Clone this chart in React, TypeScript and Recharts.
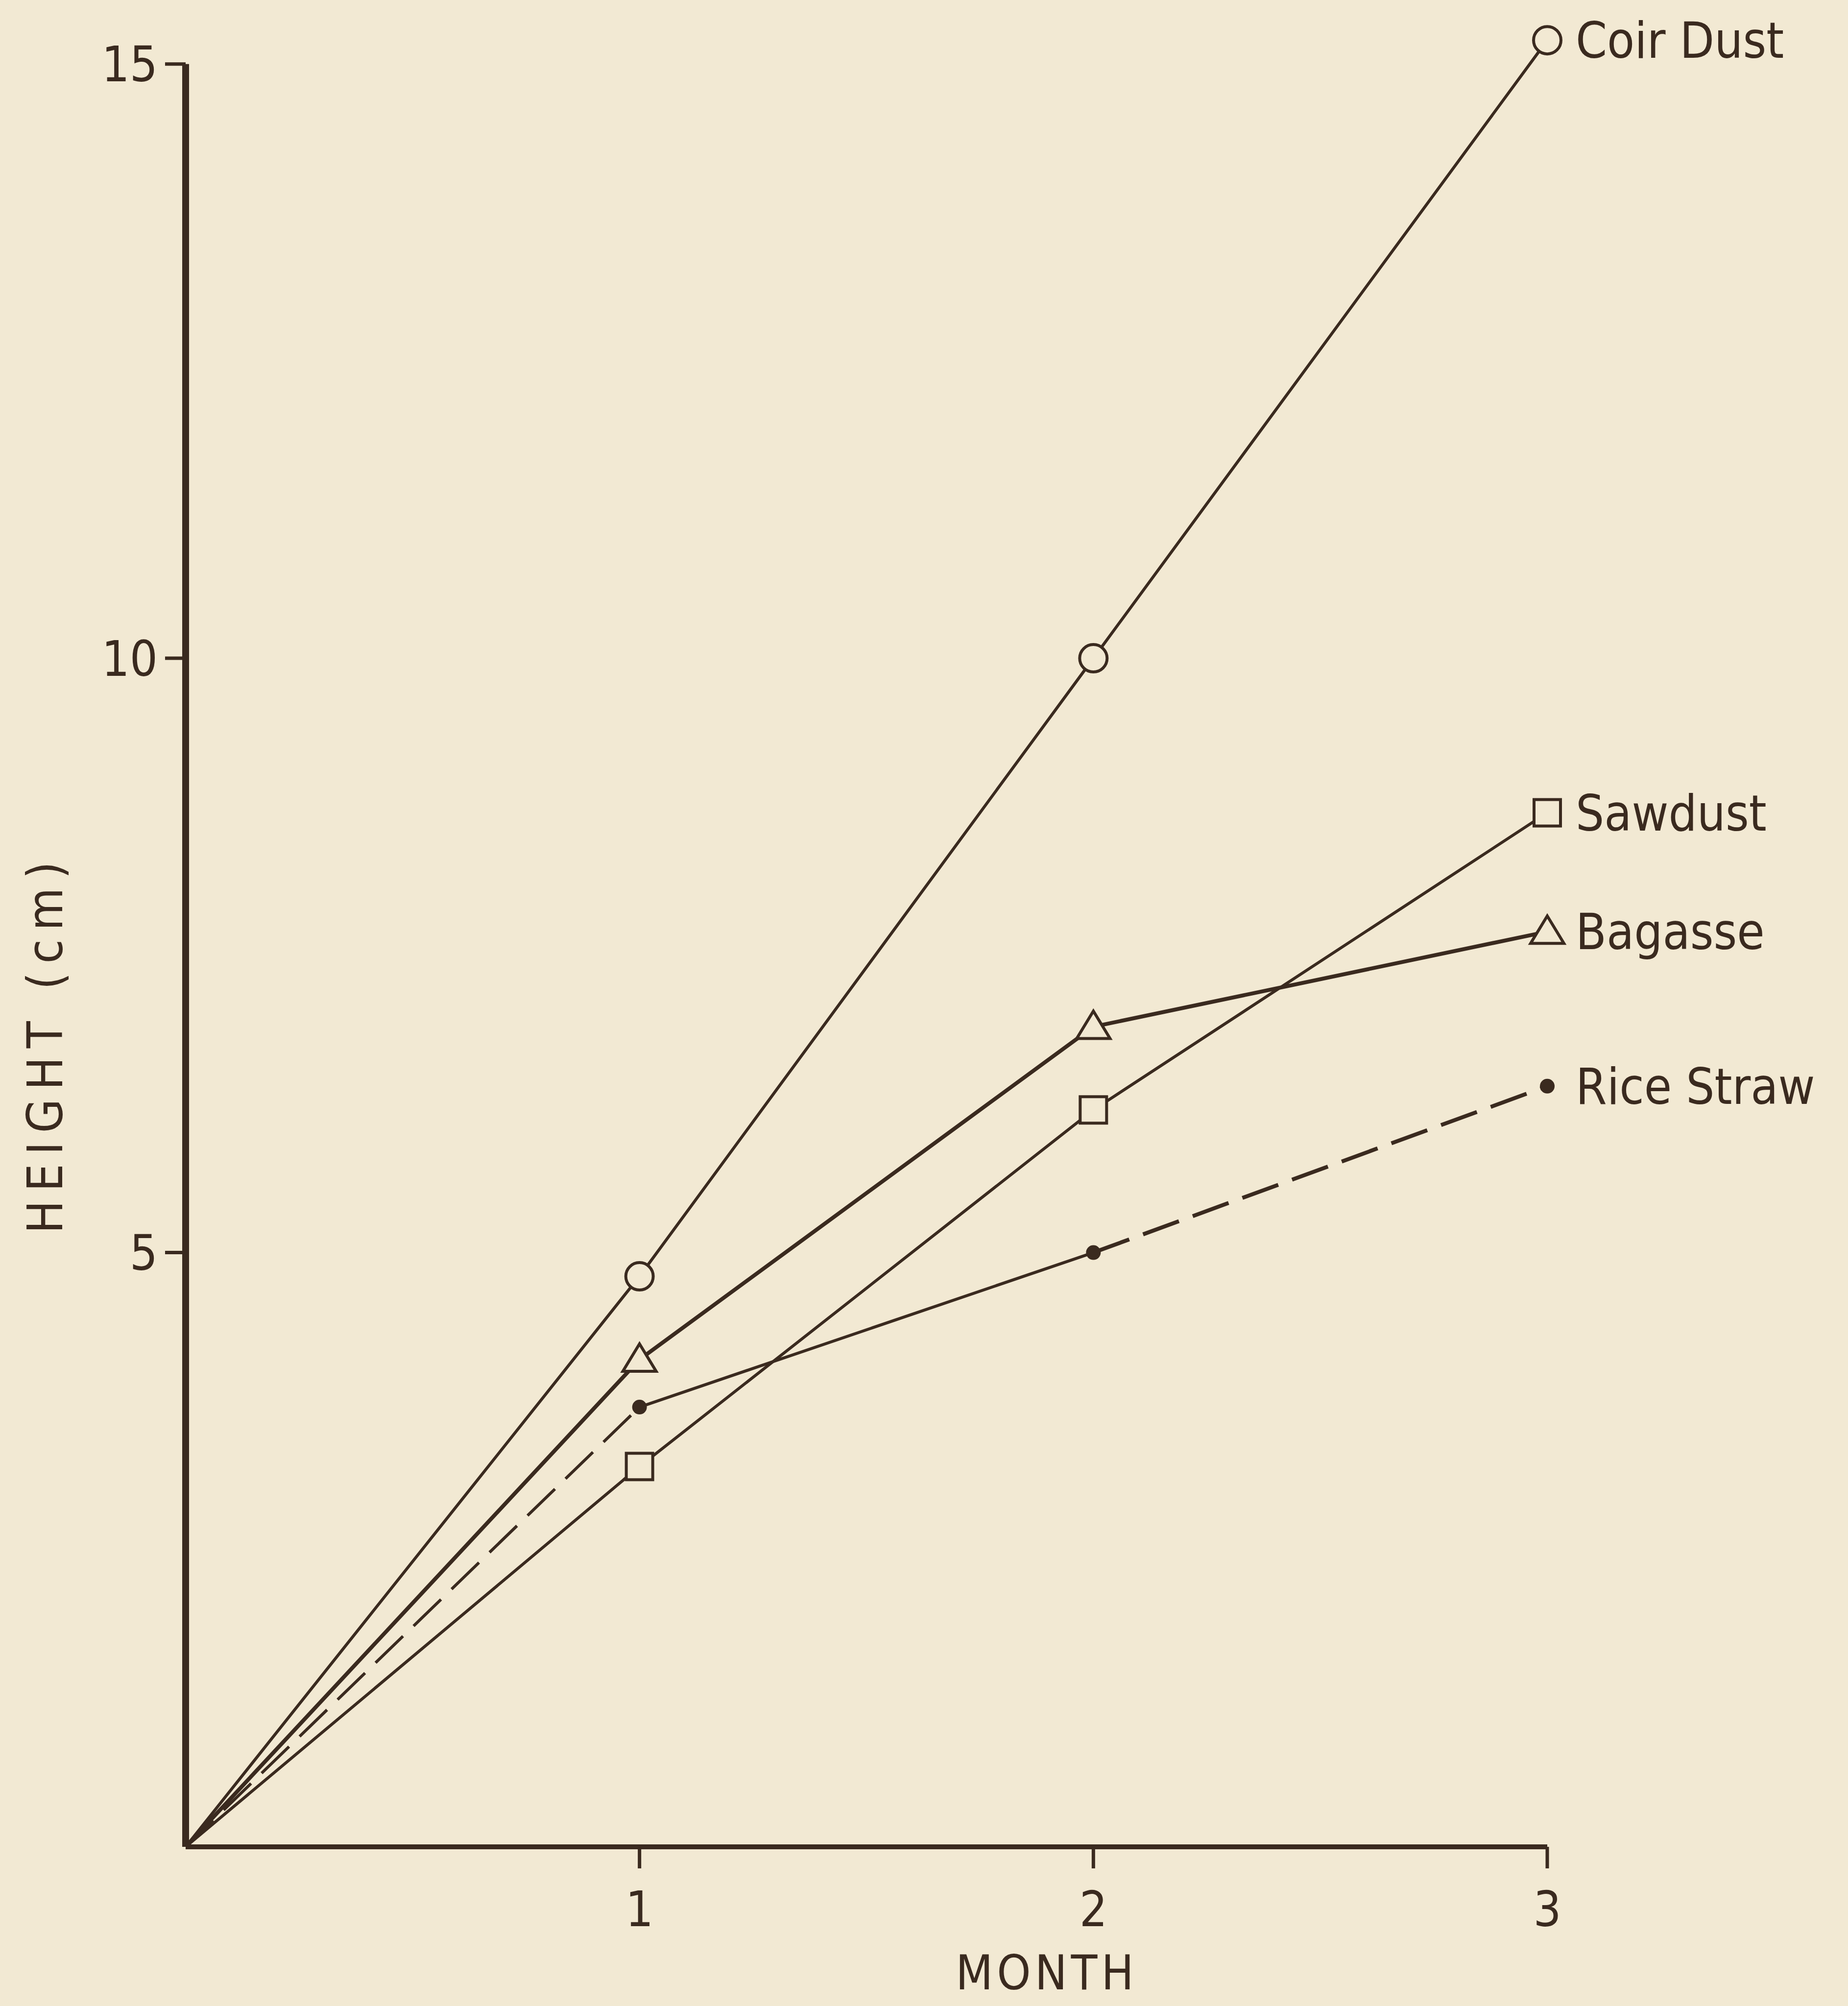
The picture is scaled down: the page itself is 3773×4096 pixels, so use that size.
import React from 'react';
import { LineChart, Line, XAxis, YAxis, ReferenceLine } from 'recharts';

// months after sowing
const months = [0, 1, 2, 3];
// seedling height (cm) per medium
const coirDust = [0, 4.8, 10.0, 15.2];
const sawdust = [0, 3.2, 6.2, 8.7];
const bagasse = [0, 4.1, 6.9, 7.7];
const riceStraw = [0, 3.7, 5.0, 6.4];
const yTicks = [5, 10, 15];
const xTicks = [1, 2, 3];

const INK = '#3a2a1f';
const PAPER = '#f2e9d3';
const FONT = '"DejaVu Sans Condensed", "Liberation Sans Narrow", "Liberation Sans", sans-serif';

const data = months.map((m, i) => ({
  month: m,
  coir: coirDust[i],
  saw: sawdust[i],
  bag: bagasse[i],
  // rice straw is drawn dashed / solid / dashed, so split it into pieces
  riceA: i <= 1 ? riceStraw[i] : null,
  riceB: i >= 1 && i <= 2 ? riceStraw[i] : null,
  riceC: i >= 2 ? riceStraw[i] : null,
}));

const marker = (kind: string, cx: number, cy: number) => {
  if (kind === 'circle') return <circle cx={cx} cy={cy} r={28} fill={PAPER} stroke={INK} strokeWidth={6} />;
  if (kind === 'square') return <rect x={cx - 27} y={cy - 27} width={54} height={54} fill={PAPER} stroke={INK} strokeWidth={6} />;
  if (kind === 'triangle')
    return <polygon points={`${cx},${cy - 32} ${cx + 34},${cy + 24} ${cx - 34},${cy + 24}`} fill={PAPER} stroke={INK} strokeWidth={6} />;
  return <circle cx={cx} cy={cy} r={15} fill={INK} />;
};

const makeDot = (kind: string, label: string | null, from: number) => (props: any) => {
  const { cx, cy, index } = props;
  if (cx == null || cy == null || index < from) return <g key={`d-${kind}-${index}`} />;
  return (
    <g key={`d-${kind}-${index}`}>
      {marker(kind, cx, cy)}
      {label && index === 3 && (
        <text x={cx + 58} y={cy + 36} fontSize={102} fill={INK} fontFamily={FONT}>
          {label}
        </text>
      )}
    </g>
  );
};

const yTitle = () => (
  <text
    x={92}
    y={2130}
    transform="rotate(-90, 92, 2130)"
    textAnchor="middle"
    dominantBaseline="central"
    fontSize={100}
    letterSpacing={18}
    fill={INK}
    fontFamily={FONT}
  >
    HEIGHT (cm)
  </text>
);

const xTitle = () => (
  <text x={2137} y={4028} textAnchor="middle" dominantBaseline="central" fontSize={98} letterSpacing={8} fill={INK} fontFamily={FONT}>
    MONTH
  </text>
);

export default function App() {
  const tickStyle = { fontSize: 100, fill: INK, fontFamily: FONT };
  return (
    <div style={{ position: 'absolute', left: 0, top: 0, width: 3773, height: 4096, background: PAPER }}>
      <LineChart width={3773} height={4096} data={data} margin={{ top: 70, right: 614, bottom: 0, left: 0 }}>
        <XAxis
          dataKey="month"
          type="number"
          domain={[0, 3]}
          ticks={xTicks}
          height={325}
          tick={tickStyle}
          tickSize={44}
          tickMargin={47}
          tickLine={{ stroke: INK, strokeWidth: 7 }}
          axisLine={{ stroke: INK, strokeWidth: 10 }}
          label={xTitle}
        />
        <YAxis
          type="number"
          domain={[0, 15.25]}
          ticks={yTicks}
          width={379}
          tick={tickStyle}
          tickSize={42}
          tickMargin={15}
          tickLine={{ stroke: INK, strokeWidth: 7 }}
          axisLine={false}
          label={yTitle}
        />
        <ReferenceLine segment={[{ x: 0, y: 0 }, { x: 0, y: 15 }]} stroke={INK} strokeWidth={14} />
        <Line dataKey="coir" stroke={INK} strokeWidth={6} dot={makeDot('circle', 'Coir  Dust', 1)} activeDot={false} isAnimationActive={false} />
        <Line dataKey="saw" stroke={INK} strokeWidth={6} dot={makeDot('square', 'Sawdust', 1)} activeDot={false} isAnimationActive={false} />
        <Line dataKey="bag" stroke={INK} strokeWidth={8} dot={makeDot('triangle', 'Bagasse', 1)} activeDot={false} isAnimationActive={false} />
        <Line dataKey="riceA" stroke={INK} strokeWidth={6} strokeDasharray="78 30" dot={false} activeDot={false} isAnimationActive={false} />
        <Line dataKey="riceB" stroke={INK} strokeWidth={6} dot={makeDot('dot', null, 1)} activeDot={false} isAnimationActive={false} />
        <Line dataKey="riceC" stroke={INK} strokeWidth={8} strokeDasharray="78 30" dot={makeDot('dot', 'Rice  Straw', 3)} activeDot={false} isAnimationActive={false} />
      </LineChart>
    </div>
  );
}
